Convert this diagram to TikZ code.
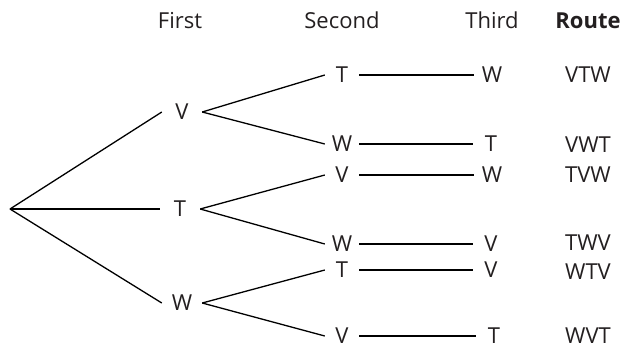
\documentclass[tikz,border=0pt]{standalone}
\usepackage{fontspec}
\setmainfont{Open Sans}
\definecolor{ink}{HTML}{231F20}
\begin{document}
\begin{tikzpicture}[x=1pt,y=-1pt,
  lbl/.style={inner sep=0pt,text=ink,font=\fontsize{22}{26}\selectfont},
  head/.style={lbl,anchor=base},
  first/.style={lbl,minimum width=40pt,minimum height=16pt},
  second/.style={lbl,minimum width=34pt,minimum height=16pt},
  third/.style={lbl,minimum width=36pt,minimum height=16pt},
  edge/.style={draw=black,line width=1.3pt}]
\useasboundingbox (0,0) rectangle (622,349);
% headers
\node[head] (h1) at (180,28) {First};
\node[head] (h2) at (342,28) {Second};
\node[head] (h3) at (492,28) {Third};
\node[head,font=\fontsize{22}{26}\selectfont\bfseries] (h4) at (588,28) {Route};
% root
\coordinate (r) at (10,209);
% first level
\node[first] (a1) at (182,112) {V};
\node[first] (a2) at (180,209) {T};
\node[first] (a3) at (182,303) {W};
% second level
\node[second] (b1) at (342,75) {T};
\node[second] (b2) at (342,144) {W};
\node[second] (b3) at (342,175) {V};
\node[second] (b4) at (342,244) {W};
\node[second] (b5) at (342,270) {T};
\node[second] (b6) at (342,336) {V};
% third level
\node[third] (c1) at (492,75) {W};
\node[third] (c2) at (491,144) {T};
\node[third] (c3) at (492,175) {W};
\node[third] (c4) at (491,244) {V};
\node[third] (c5) at (491,270) {V};
\node[third] (c6) at (494,336) {T};
% routes
\node[lbl] (d1) at (588,75) {VTW};
\node[lbl] (d2) at (588,145) {VWT};
\node[lbl] (d3) at (588,175) {TVW};
\node[lbl] (d4) at (588,243) {TWV};
\node[lbl] (d5) at (588,272) {WTV};
\node[lbl] (d6) at (588,336) {WVT};
% edges
\draw[edge] (r) -- (a1.west);
\draw[edge] (r) -- (a2.west);
\draw[edge] (r) -- (a3.west);
\draw[edge] (a1.east) -- (b1.west);
\draw[edge] (a1.east) -- (b2.west);
\draw[edge] (a2.east) -- (b3.west);
\draw[edge] (a2.east) -- (b4.west);
\draw[edge] (a3.east) -- (b5.west);
\draw[edge] (a3.east) -- (b6.west);
\draw[edge] (b1.east) -- (c1.west);
\draw[edge] (b2.east) -- (c2.west);
\draw[edge] (b3.east) -- (c3.west);
\draw[edge] (b4.east) -- (c4.west);
\draw[edge] (b5.east) -- (c5.west);
\draw[edge] (b6.east) -- (c6.west);
\end{tikzpicture}
\end{document}
